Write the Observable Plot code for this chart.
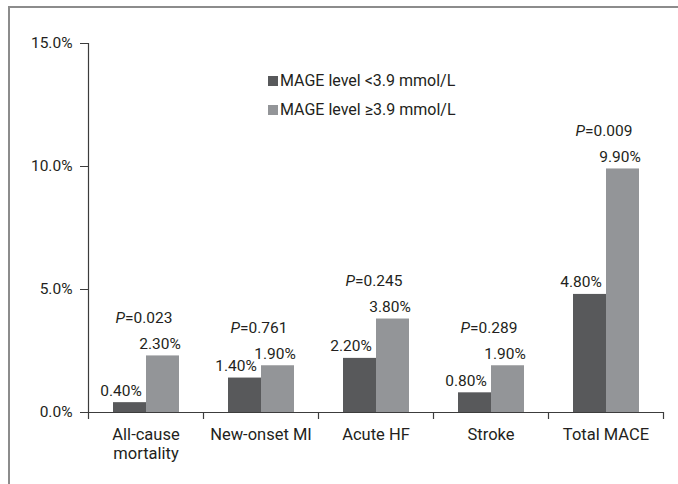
<!DOCTYPE html>
<html>
<head>
<meta charset="utf-8">
<script src="https://cdn.jsdelivr.net/npm/d3@7"></script>
<script src="https://cdn.jsdelivr.net/npm/@observablehq/plot@0.6"></script>
<style>
  html, body { margin: 0; padding: 0; background: #fff; overflow: hidden; }
  #wrap { position: relative; width: 678px; height: 484px; overflow: hidden; font-family: Roboto, "Liberation Sans", Arial, sans-serif; color: #231f20; }
  #border { position: absolute; left: 8px; top: 6px; width: 700px; height: 520px; border: 2px solid #8c8c8c; box-sizing: border-box; pointer-events: none; }
  #legend { position: absolute; left: 268px; top: 66px; font-size: 16px; line-height: 29px; white-space: nowrap; }
  #legend .sw { display: inline-block; width: 10px; height: 10px; margin-right: 2px; vertical-align: 0px; }
  svg { position: absolute; left: 0; top: 0; }
</style>
</head>
<body>
<div id="wrap"><div id="border"></div></div>
<script>
const categories = ["All-cause\nmortality", "New-onset MI", "Acute HF", "Stroke", "Total MACE"];
const lowValues  = [0.4, 1.4, 2.2, 0.8, 4.8];
const highValues = [2.3, 1.9, 3.8, 1.9, 9.9];
const pValues    = ["0.023", "0.761", "0.245", "0.289", "0.009"];
const seriesNames = ["MAGE level <3.9 mmol/L", "MAGE level \u22653.9 mmol/L"];
const seriesColors = ["#58595b", "#939598"];
const yTicks = [0, 5, 10, 15];

const W = 678, H = 484, mL = 88, mR = 15, mT = 43, mB = 72;
const bw = (W - mL - mR) / categories.length;

const low = categories.map((c, i) => ({category: c, value: lowValues[i]}));
const high = categories.map((c, i) => ({category: c, value: highValues[i]}));
const pl = categories.map((c, i) => ({category: c, top: Math.max(lowValues[i], highValues[i]), label: "P=" + pValues[i]}));
const fmtPct = d => d.toFixed(2) + "%";

const chart = Plot.plot({
  width: W, height: H,
  marginLeft: mL, marginRight: mR, marginTop: mT, marginBottom: mB,
  style: {fontFamily: "Roboto, 'Liberation Sans', Arial, sans-serif", color: "#231f20", background: "transparent"},
  x: {type: "band", domain: categories, padding: 0},
  y: {domain: [0, 15]},
  marks: [
    Plot.barY(low, {x: "category", y: "value", fill: seriesColors[0], insetLeft: 25, insetRight: bw - 58}),
    Plot.barY(high, {x: "category", y: "value", fill: seriesColors[1], insetLeft: 58, insetRight: bw - 91}),
    Plot.text(low, {x: "category", y: "value", text: d => fmtPct(d.value), dx: -25, dy: -7, lineAnchor: "bottom", fontSize: 15.5, fill: "#231f20"}),
    Plot.text(high, {x: "category", y: "value", text: d => fmtPct(d.value), dx: 14, dy: -7, lineAnchor: "bottom", fontSize: 15.5, fill: "#231f20"}),
    Plot.text(pl, {x: "category", y: "top", text: "label", dx: -2, dy: -33, lineAnchor: "bottom", fontSize: 15.5, fill: "#231f20", className: "pval"}),
    Plot.frame({anchor: "left", stroke: "#3c3c3c", strokeWidth: 1.2}),
    Plot.ruleY([0], {stroke: "#3c3c3c", strokeWidth: 1.2}),
    Plot.ruleX(categories, {x: d => d, y1: 0, y2: 0, dx: -bw / 2, insetBottom: -7, stroke: "#3c3c3c", strokeWidth: 1.2}),
    Plot.ruleX(categories.slice(-1), {x: d => d, y1: 0, y2: 0, dx: bw / 2, insetBottom: -7, stroke: "#3c3c3c", strokeWidth: 1.2}),
    Plot.axisY({ticks: yTicks, tickFormat: d => d.toFixed(1) + "%", tickSize: 8, tickPadding: 8, fontSize: 15.5, label: null, stroke: "#3c3c3c", fill: "#231f20"}),
    Plot.axisX({tickSize: 0, tickPadding: 14, fontSize: 16.5, lineHeight: 1.15, label: null, fill: "#231f20"})
  ]
});

chart.querySelectorAll("g.pval text").forEach(t => {
  const s = t.textContent;
  while (t.firstChild) t.removeChild(t.firstChild);
  const ns = "http://www.w3.org/2000/svg";
  const a = document.createElementNS(ns, "tspan");
  a.setAttribute("font-style", "italic");
  a.textContent = s.slice(0, 1);
  t.appendChild(a);
  t.appendChild(document.createTextNode(s.slice(1)));
});

const wrap = document.getElementById("wrap");
wrap.insertBefore(chart, wrap.firstChild);

const legend = document.createElement("div");
legend.id = "legend";
seriesNames.forEach((name, i) => {
  const row = document.createElement("div");
  const sw = document.createElement("span");
  sw.className = "sw";
  sw.style.background = seriesColors[i];
  row.appendChild(sw);
  row.appendChild(document.createTextNode(name));
  legend.appendChild(row);
});
wrap.appendChild(legend);
</script>
</body>
</html>
